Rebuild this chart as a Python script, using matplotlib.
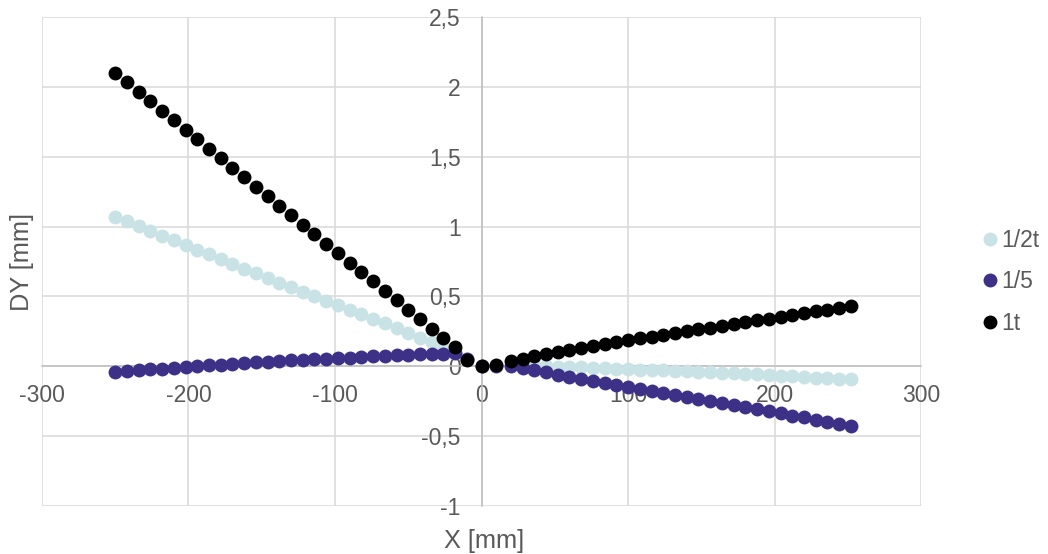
import matplotlib
matplotlib.use("Agg")
import matplotlib.pyplot as plt
from matplotlib.ticker import FuncFormatter, MultipleLocator

# positions along the beam [mm]
x_left = [-250, -242, -234, -226, -218, -210, -202, -194, -186, -178,
          -170, -162, -154, -146, -138, -130, -122, -114, -106, -98,
          -90, -82, -74, -66, -58, -50, -42, -34, -26, -18, -10]
x_right = [0, 10, 20, 28, 36, 44, 52, 60, 68, 76, 84, 92, 100, 108, 116,
           124, 132, 140, 148, 156, 164, 172, 180, 188, 196, 204, 212,
           220, 228, 236, 244, 252]
x = x_left + x_right

# deflection DY [mm]
dy_half_t = [1.070, 1.037, 1.003, 0.969, 0.936, 0.902, 0.868, 0.834, 0.801, 0.767,
             0.733, 0.700, 0.666, 0.632, 0.600, 0.568, 0.535, 0.502, 0.470, 0.438,
             0.405, 0.372, 0.340, 0.307, 0.274, 0.240, 0.206, 0.172, 0.136, 0.098, 0.055,
             0.000, 0.010, 0.012, 0.010, 0.006, 0.002, -0.002, -0.005, -0.008, -0.011,
             -0.014, -0.017, -0.020, -0.023, -0.026, -0.029, -0.032, -0.035, -0.038,
             -0.042, -0.046, -0.050, -0.054, -0.058, -0.062, -0.066, -0.071, -0.076,
             -0.080, -0.085, -0.089, -0.093]
dy_fifth = [-0.040, -0.034, -0.028, -0.022, -0.016, -0.010, -0.004, 0.002, 0.008, 0.013,
            0.018, 0.023, 0.028, 0.033, 0.038, 0.043, 0.047, 0.051, 0.055, 0.059,
            0.063, 0.067, 0.071, 0.075, 0.079, 0.082, 0.085, 0.088, 0.090, 0.092, 0.050,
            0.000, 0.005, 0.000, -0.015, -0.029, -0.044, -0.059, -0.073, -0.088, -0.102,
            -0.117, -0.132, -0.146, -0.161, -0.176, -0.190, -0.205, -0.220, -0.234,
            -0.249, -0.264, -0.278, -0.293, -0.308, -0.322, -0.337, -0.352, -0.366,
            -0.381, -0.395, -0.410, -0.425]
dy_1t = [2.100, 2.032, 1.964, 1.896, 1.829, 1.761, 1.693, 1.625, 1.557, 1.489,
         1.422, 1.354, 1.286, 1.218, 1.150, 1.082, 1.015, 0.947, 0.879, 0.811,
         0.743, 0.675, 0.608, 0.540, 0.472, 0.404, 0.336, 0.268, 0.200, 0.135, 0.045,
         0.000, 0.008, 0.035, 0.055, 0.072, 0.088, 0.103, 0.117, 0.131, 0.145,
         0.159, 0.173, 0.187, 0.200, 0.213, 0.226, 0.239, 0.252, 0.265, 0.278,
         0.291, 0.304, 0.317, 0.330, 0.342, 0.355, 0.368, 0.380, 0.393, 0.405,
         0.418, 0.430]

series = [("1/2t", dy_half_t, "#c8e2e5"),
          ("1/5", dy_fifth, "#3c3187"),
          ("1t", dy_1t, "#000000")]

plt.rcParams['font.family'] = ['Liberation Sans', 'DejaVu Sans']
txt = "#595959"

fig = plt.figure(figsize=(10.48, 5.54), dpi=100)
ax = fig.add_axes([0.040, 0.0866, 0.839, 0.8825])

for name, dy, col in series:
    ax.plot(x, dy, linestyle='none', marker='o', markersize=10,
            markeredgewidth=0, color=col, label=name, zorder=3)

ax.set_xlim(-300, 300)
ax.set_ylim(-1, 2.5)
ax.xaxis.set_major_locator(MultipleLocator(100))
ax.yaxis.set_major_locator(MultipleLocator(0.5))
comma = FuncFormatter(lambda v, p: ('%g' % v).replace('.', ','))
ax.xaxis.set_major_formatter(comma)
ax.yaxis.set_major_formatter(comma)

ax.grid(True, color="#d9d9d9", linewidth=1.1, zorder=0)
ax.set_axisbelow(True)
for s in ['top', 'right']:
    ax.spines[s].set_visible(False)
ax.spines['left'].set_position(('data', 0))
ax.spines['bottom'].set_position(('data', 0))
for s in ['left', 'bottom']:
    ax.spines[s].set_color("#bfbfbf")
    ax.spines[s].set_linewidth(1.1)
    ax.spines[s].set_zorder(1)
ax.tick_params(axis='y', length=0, pad=15, labelsize=16.5, labelcolor=txt)
ax.tick_params(axis='x', length=0, pad=13, labelsize=16.5, labelcolor=txt)

fig.text(0.462, 0.024, "X [mm]", ha='center', va='center', fontsize=18.3, color=txt)
fig.text(0.021, 0.527, "DY [mm]", ha='center', va='center', rotation=90,
         fontsize=18.3, color=txt)

fig.legend(loc='center left', bbox_to_anchor=(0.9175, 0.491), frameon=False,
           fontsize=16.5, labelcolor=txt, handlelength=0.7, handletextpad=0.15,
           labelspacing=0.8, markerscale=1.0)

fig.savefig("out.png", dpi=100)
